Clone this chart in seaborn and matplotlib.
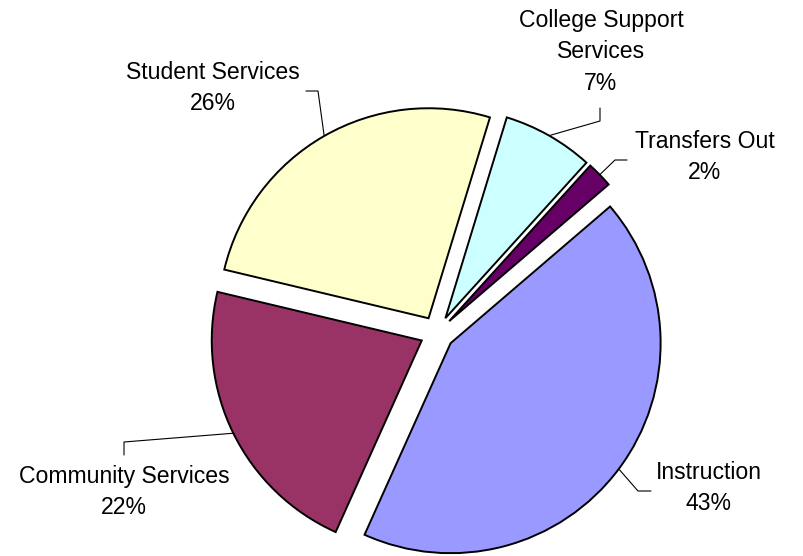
import matplotlib
matplotlib.use("Agg")
import matplotlib.pyplot as plt
import numpy as np
import seaborn as sns

# Budget shares by category (percent)
categories = ["Transfers Out", "College Support\nServices", "Student Services",
              "Community Services", "Instruction"]
shares = [2, 7, 26, 22, 43]
colors = ["#660066", "#CCFFFF", "#FFFFCC", "#993366", "#9999FF"]

sns.set_theme(style="white")
plt.rcParams["font.family"] = ["Liberation Sans", "DejaVu Sans"]

W, H = 804, 556
fig = plt.figure(figsize=(W / 100, H / 100), dpi=100)
ax = fig.add_axes([0, 0, 1, 1])

cx, cy, R = 437, H - 333, 210
wedges, _ = ax.pie(
    shares, colors=colors, radius=R, center=(cx, cy),
    explode=[17] * len(shares), startangle=40.6, counterclock=True,
    wedgeprops=dict(edgecolor="black", linewidth=1.4),
)
ax.set_xlim(0, W)
ax.set_ylim(0, H)
ax.axis("off")

# Label centres and leader-line elbows, in pixels from the top-left corner
label_pos = [(705, 157), (601, 52), (213, 88), (124, 492), (709, 488)]
elbows = [
    [(627, 160), (615, 160)],
    [(600, 108), (600, 121)],
    [(306, 91), (318, 91)],
    [(124, 455), (124, 442)],
    [(651, 491), (638, 491)],
]

for w, cat, s, (lx, ly), elbow in zip(wedges, categories, shares, label_pos, elbows):
    mid = np.deg2rad((w.theta1 + w.theta2) / 2)
    px = w.center[0] + w.r * np.cos(mid)
    py = w.center[1] + w.r * np.sin(mid)
    pts = [(x, H - y) for x, y in elbow] + [(px, py)]
    xs, ys = zip(*pts)
    ax.plot(xs, ys, color="black", lw=0.8, zorder=0.5)
    ax.text(lx, H - ly, f"{cat}\n{s}%", ha="center", va="center",
            fontsize=16.6, linespacing=1.45, multialignment="center",
            color="black")

fig.savefig("out.png", dpi=100)
